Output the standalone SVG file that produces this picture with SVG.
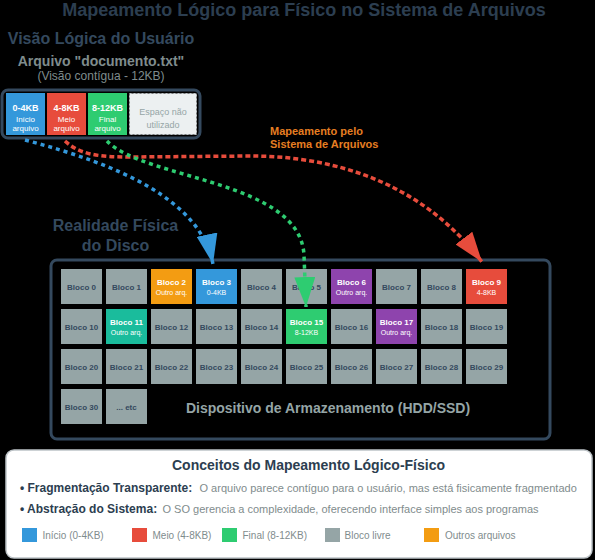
<svg xmlns="http://www.w3.org/2000/svg" width="595" height="560" viewBox="0 0 595 560">
<style>
text{font-family:"Liberation Sans",Arial,sans-serif}
.h{font-weight:bold;fill:#34495e;font-size:16px;text-anchor:middle}
.g{fill:#95a5a6}
.bt{font-size:8px;font-weight:bold;fill:#34495e;text-anchor:middle}
.wt{font-size:8px;font-weight:bold;fill:#ffffff;text-anchor:middle}
.ws{font-size:7px;fill:#ffffff;text-anchor:middle}
.ct{font-size:9px;font-weight:bold;fill:#ffffff;text-anchor:middle}
.cs{font-size:8px;fill:#ffffff;text-anchor:middle}
.lbl{font-size:12px;font-weight:bold;fill:#2c3e50}
.desc{font-size:11px;fill:#7f8c8d}
.leg{font-size:10px;fill:#7f8c8d}
.conn{fill:none;stroke-width:3.5}
</style>
<defs>
<marker id="ab" markerUnits="userSpaceOnUse" markerWidth="30" markerHeight="21" refX="30" refY="10.5" orient="auto"><path d="M0,0 L30,10.5 L0,21 z" fill="#3498db"/></marker>
<marker id="ar" markerUnits="userSpaceOnUse" markerWidth="30" markerHeight="21" refX="30" refY="10.5" orient="auto"><path d="M0,0 L30,10.5 L0,21 z" fill="#e74c3c"/></marker>
<marker id="ag" markerUnits="userSpaceOnUse" markerWidth="30" markerHeight="21" refX="30" refY="10.5" orient="auto"><path d="M0,0 L30,10.5 L0,21 z" fill="#2ecc71"/></marker>
</defs>
<rect x="0" y="0" width="595" height="560" fill="#000000"/>
<text x="304" y="15.5" text-anchor="middle" font-size="18" font-weight="bold" fill="#2c3e50">Mapeamento Lógico para Físico no Sistema de Arquivos</text>

<g id="logical-view">
<text class="h" x="101" y="44">Visão Lógica do Usuário</text>
<text x="101" y="66" text-anchor="middle" font-size="14" font-weight="bold" fill="#7f8c8d">Arquivo "documento.txt"</text>
<text x="101" y="80" text-anchor="middle" font-size="12" fill="#7f8c8d">(Visão contígua - 12KB)</text>
<rect x="2" y="90" width="198" height="48" rx="6" fill="none" stroke="#34495e" stroke-width="3"/>
</g>
<g id="cell-0-4">
<rect x="6" y="93" width="39" height="42" fill="#3498db"/>
<text class="ct" x="25.5" y="110.5">0-4KB</text>
<text class="cs" x="25.5" y="121.5">Início</text>
<text class="cs" x="25.5" y="131">arquivo</text>
</g>
<g id="cell-4-8">
<rect x="47" y="93" width="39" height="42" fill="#e74c3c"/>
<text class="ct" x="66.5" y="110.5">4-8KB</text>
<text class="cs" x="66.5" y="121.5">Meio</text>
<text class="cs" x="66.5" y="131">arquivo</text>
</g>
<g id="cell-8-12">
<rect x="88" y="93" width="39" height="42" fill="#2ecc71"/>
<text class="ct" x="107.5" y="110.5">8-12KB</text>
<text class="cs" x="107.5" y="121.5">Final</text>
<text class="cs" x="107.5" y="131">arquivo</text>
</g>
<g id="cell-free">
<rect x="129.5" y="93.5" width="67" height="41" fill="#ecf0f1" stroke="#bdc3c7" stroke-width="1" stroke-dasharray="2,2"/>
<text x="163" y="114.5" text-anchor="middle" font-size="9" fill="#95a5a6">Espaço não</text>
<text x="163" y="127.5" text-anchor="middle" font-size="9" fill="#95a5a6">utilizado</text>
</g>

<g id="mapping-label">
<text x="270" y="135" font-size="11" font-weight="bold" fill="#e67e22">Mapeamento pelo</text>
<text x="270" y="148" font-size="11" font-weight="bold" fill="#e67e22">Sistema de Arquivos</text>
</g>

<g id="physical-disk">
<text class="h" x="115.5" y="231">Realidade Física</text>
<text class="h" x="115.5" y="251">do Disco</text>
<rect x="51" y="260" width="499" height="179" rx="6" fill="none" stroke="#34495e" stroke-width="3"/>
<text x="328" y="413" text-anchor="middle" font-size="14" font-weight="bold" fill="#95a5a6">Dispositivo de Armazenamento (HDD/SSD)</text>
</g>

<g id="b0"><rect class="g" x="61" y="269" width="41" height="35"/><text class="bt" x="81.5" y="290">Bloco 0</text></g>
<g id="b1"><rect class="g" x="106" y="269" width="41" height="35"/><text class="bt" x="126.5" y="290">Bloco 1</text></g>
<g id="b2"><rect fill="#f39c12" x="151" y="269" width="41" height="35"/><text class="wt" x="171.5" y="285">Bloco 2</text><text class="ws" x="171.5" y="294.5">Outro arq.</text></g>
<g id="b3"><rect fill="#3498db" x="196" y="269" width="41" height="35"/><text class="wt" x="216.5" y="285">Bloco 3</text><text class="ws" x="216.5" y="294.5">0-4KB</text></g>
<g id="b4"><rect class="g" x="241" y="269" width="41" height="35"/><text class="bt" x="261.5" y="290">Bloco 4</text></g>
<g id="b5"><rect class="g" x="286" y="269" width="41" height="35"/><text class="bt" x="306.5" y="290">Bloco 5</text></g>
<g id="b6"><rect fill="#8e44ad" x="331" y="269" width="41" height="35"/><text class="wt" x="351.5" y="285">Bloco 6</text><text class="ws" x="351.5" y="294.5">Outro arq.</text></g>
<g id="b7"><rect class="g" x="376" y="269" width="41" height="35"/><text class="bt" x="396.5" y="290">Bloco 7</text></g>
<g id="b8"><rect class="g" x="421" y="269" width="41" height="35"/><text class="bt" x="441.5" y="290">Bloco 8</text></g>
<g id="b9"><rect fill="#e74c3c" x="466" y="269" width="41" height="35"/><text class="wt" x="486.5" y="285">Bloco 9</text><text class="ws" x="486.5" y="294.5">4-8KB</text></g>

<g id="b10"><rect class="g" x="61" y="309" width="41" height="35"/><text class="bt" x="81.5" y="330">Bloco 10</text></g>
<g id="b11"><rect fill="#1abc9c" x="106" y="309" width="41" height="35"/><text class="wt" x="126.5" y="325">Bloco 11</text><text class="ws" x="126.5" y="334.5">Outro arq.</text></g>
<g id="b12"><rect class="g" x="151" y="309" width="41" height="35"/><text class="bt" x="171.5" y="330">Bloco 12</text></g>
<g id="b13"><rect class="g" x="196" y="309" width="41" height="35"/><text class="bt" x="216.5" y="330">Bloco 13</text></g>
<g id="b14"><rect class="g" x="241" y="309" width="41" height="35"/><text class="bt" x="261.5" y="330">Bloco 14</text></g>
<g id="b15"><rect fill="#2ecc71" x="286" y="309" width="41" height="35"/><text class="wt" x="306.5" y="325">Bloco 15</text><text class="ws" x="306.5" y="334.5">8-12KB</text></g>
<g id="b16"><rect class="g" x="331" y="309" width="41" height="35"/><text class="bt" x="351.5" y="330">Bloco 16</text></g>
<g id="b17"><rect fill="#8e44ad" x="376" y="309" width="41" height="35"/><text class="wt" x="396.5" y="325">Bloco 17</text><text class="ws" x="396.5" y="334.5">Outro arq.</text></g>
<g id="b18"><rect class="g" x="421" y="309" width="41" height="35"/><text class="bt" x="441.5" y="330">Bloco 18</text></g>
<g id="b19"><rect class="g" x="466" y="309" width="41" height="35"/><text class="bt" x="486.5" y="330">Bloco 19</text></g>

<g id="b20"><rect class="g" x="61" y="349" width="41" height="35"/><text class="bt" x="81.5" y="370">Bloco 20</text></g>
<g id="b21"><rect class="g" x="106" y="349" width="41" height="35"/><text class="bt" x="126.5" y="370">Bloco 21</text></g>
<g id="b22"><rect class="g" x="151" y="349" width="41" height="35"/><text class="bt" x="171.5" y="370">Bloco 22</text></g>
<g id="b23"><rect class="g" x="196" y="349" width="41" height="35"/><text class="bt" x="216.5" y="370">Bloco 23</text></g>
<g id="b24"><rect class="g" x="241" y="349" width="41" height="35"/><text class="bt" x="261.5" y="370">Bloco 24</text></g>
<g id="b25"><rect class="g" x="286" y="349" width="41" height="35"/><text class="bt" x="306.5" y="370">Bloco 25</text></g>
<g id="b26"><rect class="g" x="331" y="349" width="41" height="35"/><text class="bt" x="351.5" y="370">Bloco 26</text></g>
<g id="b27"><rect class="g" x="376" y="349" width="41" height="35"/><text class="bt" x="396.5" y="370">Bloco 27</text></g>
<g id="b28"><rect class="g" x="421" y="349" width="41" height="35"/><text class="bt" x="441.5" y="370">Bloco 28</text></g>
<g id="b29"><rect class="g" x="466" y="349" width="41" height="35"/><text class="bt" x="486.5" y="370">Bloco 29</text></g>

<g id="b30"><rect class="g" x="61" y="389" width="41" height="35"/><text class="bt" x="81.5" y="410">Bloco 30</text></g>
<g id="betc"><rect class="g" x="106" y="389" width="41" height="35"/><text class="bt" x="126.5" y="410">... etc</text></g>

<g id="concepts">
<rect x="6" y="450" width="586" height="108" rx="8" fill="#ffffff" stroke="#bdc3c7" stroke-width="1.5"/>
<text x="308.5" y="470" text-anchor="middle" font-size="14" font-weight="bold" fill="#2c3e50">Conceitos do Mapeamento Lógico-Físico</text>
<text class="lbl" x="20" y="492">• Fragmentação Transparente:</text>
<text class="desc" x="199.5" y="492">O arquivo parece contíguo para o usuário, mas está fisicamente fragmentado</text>
<text class="lbl" x="20" y="513">• Abstração do Sistema:</text>
<text class="desc" x="162.5" y="513">O SO gerencia a complexidade, oferecendo interface simples aos programas</text>
<rect x="22" y="528" width="15" height="14" fill="#3498db"/>
<text class="leg" x="42.5" y="539">Início (0-4KB)</text>
<rect x="132" y="528" width="15" height="14" fill="#e74c3c"/>
<text class="leg" x="152.5" y="539">Meio (4-8KB)</text>
<rect x="222" y="528" width="15" height="14" fill="#2ecc71"/>
<text class="leg" x="242.5" y="539">Final (8-12KB)</text>
<rect x="325" y="528" width="15" height="14" fill="#95a5a6"/>
<text class="leg" x="344.5" y="539">Bloco livre</text>
<rect x="424" y="528" width="15" height="14" fill="#f39c12"/>
<text class="leg" x="445" y="539">Outros arquivos</text>
</g>

<g id="connectors">
<path class="conn" d="M25,140 C120,165 200,200 213,264" stroke="#3498db" stroke-dasharray="4,4" marker-end="url(#ab)"/>
<path class="conn" d="M65,141 C80,155 100,157 130,157 L250,156 C330,156 420,180 482,262" stroke="#e74c3c" stroke-dasharray="5,3" marker-end="url(#ar)"/>
<path class="conn" d="M107,141 C145,180 300,180 304,255 L306,307" stroke="#2ecc71" stroke-dasharray="4,4" marker-end="url(#ag)"/>
</g>
</svg>
